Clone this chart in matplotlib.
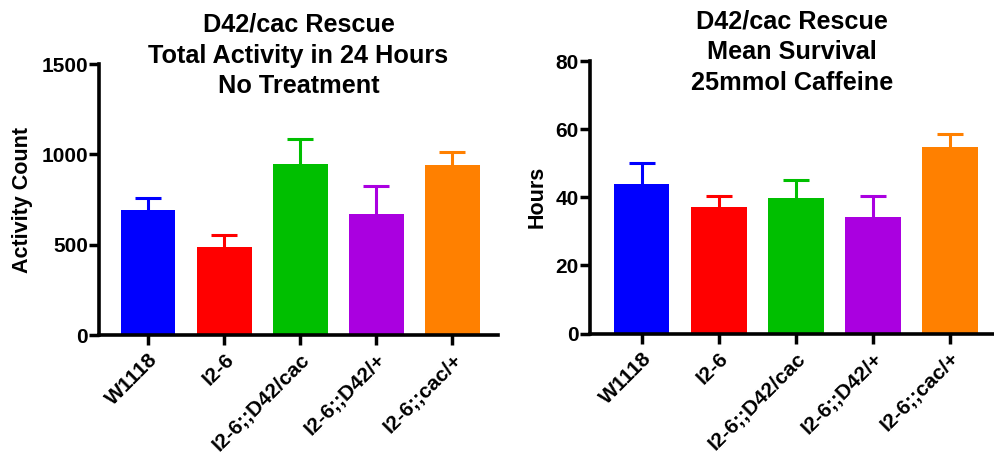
import matplotlib
matplotlib.use("Agg")
import matplotlib.pyplot as plt

plt.rcParams['font.family'] = ['Liberation Sans', 'DejaVu Sans']
plt.rcParams['font.weight'] = 'bold'

# genotypes and bar colours
genotypes = ['W1118', 'I2-6', 'I2-6;;D42/cac', 'I2-6;;D42/+', 'I2-6;;cac/+']
colors = ['#0000FF', '#FF0000', '#00BF00', '#AA00E0', '#FF8000']

# total activity in 24 h, no treatment (mean and upper error)
activity_mean = [694, 490, 948, 670, 942]
activity_err = [67, 62, 139, 154, 73]

# mean survival on 25mmol caffeine (hours)
survival_mean = [43.8, 37.2, 39.7, 34.3, 54.8]
survival_err = [6.4, 3.2, 5.5, 6.0, 3.9]

fig = plt.figure(figsize=(9.94, 4.55), dpi=100)
ax1 = fig.add_axes([0.0996, 0.2637, 0.4014, 0.5953])
ax2 = fig.add_axes([0.5936, 0.2670, 0.4064, 0.5989])


def make_panel(ax, means, errs, ymax, yticks, ylabel, title, xlim):
    x = list(range(len(means)))
    ax.bar(x, means, width=0.72, color=colors, edgecolor='none', zorder=2)
    for xi, m, e, c in zip(x, means, errs, colors):
        _, caps, _ = ax.errorbar(xi, m, yerr=[[0], [e]], color=c,
                                 elinewidth=2.2, capsize=9.7, capthick=2.2,
                                 zorder=1)
        caps[0].set_visible(False)  # only the upper cap
    ax.set_xlim(*xlim)
    ax.set_ylim(0, ymax)
    ax.set_yticks(yticks)
    ax.set_xticks(x)
    ax.set_xticklabels(genotypes, rotation=45, ha='right',
                       rotation_mode='anchor', fontsize=15, fontweight='bold')
    ax.tick_params(axis='y', labelsize=15, width=2.5, length=7, pad=1)
    ax.tick_params(axis='x', width=2.5, length=7, pad=4)
    for s in ['top', 'right']:
        ax.spines[s].set_visible(False)
    for s in ['left', 'bottom']:
        ax.spines[s].set_linewidth(2.6)
    ax.set_ylabel(ylabel, fontsize=15.5, fontweight='bold', labelpad=6)
    # multi-line title sits partly over the plotting area, like the original
    ax.annotate(title, xy=(0.5, 1), xycoords='axes fraction',
                xytext=(0, 37), textcoords='offset points',
                ha='center', va='top', fontsize=18.2, fontweight='bold',
                linespacing=1.36, annotation_clip=False)


make_panel(ax1, activity_mean, activity_err, 1500, [0, 500, 1000, 1500],
           'Activity Count',
           'D42/cac Rescue\nTotal Activity in 24 Hours\nNo Treatment',
           (-0.645, 4.6))
make_panel(ax2, survival_mean, survival_err, 80, [0, 20, 40, 60, 80],
           'Hours',
           'D42/cac Rescue\nMean Survival\n25mmol Caffeine',
           (-0.67, 4.57))

fig.savefig('out.png', dpi=100)
